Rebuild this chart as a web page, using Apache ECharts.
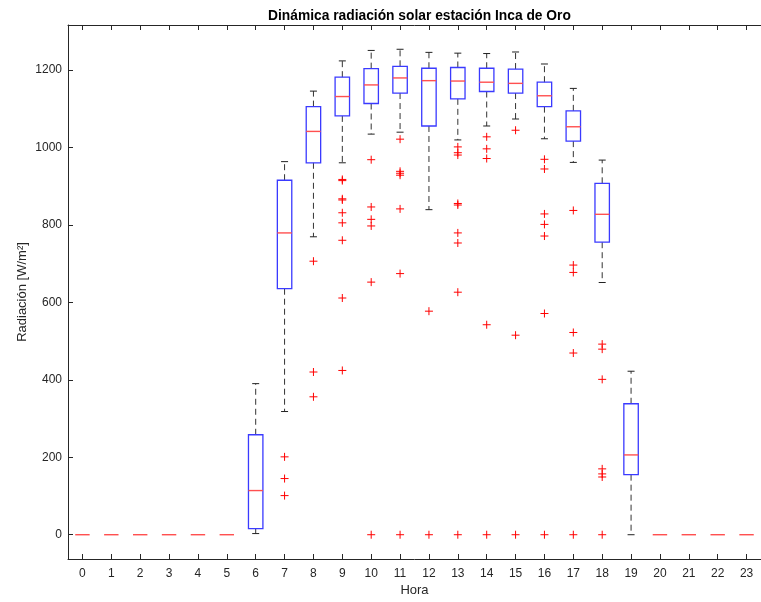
<!DOCTYPE html>
<html>
<head>
<meta charset="utf-8">
<script src="https://cdn.jsdelivr.net/npm/echarts@6/dist/echarts.min.js"></script>
<style>html,body{margin:0;padding:0;background:#fff}#c{width:761px;height:602px}</style>
</head>
<body>
<div id="c"></div>
<script>
const hours = ['0','1','2','3','4','5','6','7','8','9','10','11','12','13','14','15','16','17','18','19','20','21','22','23'];
const boxLow  = [0,0,0,0,0,0,   3, 318,  769,  960, 1034, 1039,  839, 1019, 1055, 1073, 1022,  961, 651,   0, 0,0,0,0];
const boxQ1   = [0,0,0,0,0,0,  16, 635,  960, 1081, 1113, 1140, 1055, 1125, 1144, 1140, 1105, 1016, 755, 155, 0,0,0,0];
const boxMed  = [0,0,0,0,0,0, 114, 779, 1041, 1131, 1161, 1179, 1172, 1171, 1168, 1165, 1133, 1053, 827, 206, 0,0,0,0];
const boxQ3   = [0,0,0,0,0,0, 258, 915, 1105, 1181, 1203, 1209, 1204, 1206, 1204, 1202, 1168, 1094, 907, 338, 0,0,0,0];
const boxHigh = [0,0,0,0,0,0, 390, 963, 1145, 1223, 1250, 1253, 1245, 1243, 1242, 1246, 1215, 1152, 967, 422, 0,0,0,0];
const outliers = [
  [7,201],[7,145],[7,101],
  [8,706],[8,420],[8,356],
  [9,917],[9,914],[9,867],[9,864],[9,831],[9,805],[9,760],[9,611],[9,424],
  [10,968],[10,846],[10,814],[10,797],[10,652],[10,0],
  [11,1021],[11,938],[11,933],[11,928],[11,841],[11,674],[11,0],
  [12,577],[12,0],
  [13,1001],[13,986],[13,980],[13,855],[13,851],[13,779],[13,753],[13,626],[13,0],
  [14,1027],[14,996],[14,971],[14,542],[14,0],
  [15,1044],[15,515],[15,0],
  [16,969],[16,944],[16,828],[16,801],[16,771],[16,571],[16,0],
  [17,837],[17,696],[17,677],[17,522],[17,469],[17,0],
  [18,492],[18,479],[18,401],[18,170],[18,157],[18,149],[18,0]
];
const yTicks = [0,200,400,600,800,1000,1200];

const boxData = hours.map((h,i)=>[i, boxLow[i], boxQ1[i], boxMed[i], boxQ3[i], boxHigh[i]]);

const AX = '#262626';
const FONT = 'Liberation Sans, Arial, sans-serif';
const chart = echarts.init(document.getElementById('c'));
chart.setOption({
  animation: false,
  title: {
    text: 'Dinámica radiación solar estación Inca de Oro',
    left: 263, top: 4,
    textStyle: {fontFamily: FONT, fontSize: 13.8, fontWeight: 'bold', color: '#000'}
  },
  grid: {left: 68, top: 25, width: 703, height: 535, containLabel: false},
  xAxis: [{
    type: 'category', data: hours, position: 'bottom',
    boundaryGap: true,
    name: 'Hora', nameLocation: 'middle', nameGap: 25, nameMoveOverlap: false,
    nameTextStyle: {fontFamily: FONT, fontSize: 13, color: AX},
    axisLine: {show: true, onZero: false, lineStyle: {color: AX, width: 1}},
    axisTick: {show: true, inside: true, length: 5, alignWithLabel: true, interval: 0, lineStyle: {color: AX}},
    axisLabel: {show: true, margin: 9, fontFamily: FONT, fontSize: 12, color: AX, interval: 0},
    splitLine: {show: false}
  },{
    type: 'category', data: hours, position: 'top',
    boundaryGap: true,
    axisLine: {show: true, onZero: false, lineStyle: {color: AX, width: 1}},
    axisTick: {show: true, inside: true, length: 5, alignWithLabel: true, lineStyle: {color: AX}, interval: 0},
    axisLabel: {show: false},
    splitLine: {show: false}
  }],
  yAxis: {
    type: 'value', min: -62.65, max: 1315.65,
    name: 'Radiación [W/m²]', nameLocation: 'middle', nameGap: 39, nameRotate: 90, nameMoveOverlap: false,
    nameTextStyle: {fontFamily: FONT, fontSize: 13, color: AX},
    axisLine: {show: true, onZero: false, lineStyle: {color: AX, width: 1}},
    axisTick: {show: true, inside: true, length: 5, customValues: yTicks, lineStyle: {color: AX}},
    axisLabel: {show: true, margin: 6, customValues: yTicks, formatter: v => String(v), fontFamily: FONT, fontSize: 12, color: AX},
    splitLine: {show: false}
  },
  series: [{
    type: 'custom',
    data: boxData,
    encode: {x: 0, y: [1,2,3,4,5]},
    renderItem: function(params, api) {
      const x = api.value(0);
      const band = api.size([1, 0])[0];
      const half = band * 0.25;
      const cap = 3.5;
      const cx = api.coord([x, 0])[0];
      const yv = i => api.coord([x, api.value(i)])[1];
      const yLow = yv(1), yQ1 = yv(2), yMed = yv(3), yQ3 = yv(4), yHigh = yv(5);
      const dash = {stroke: '#333', lineWidth: 1, lineDash: [6, 4], fill: null};
      const solid = {stroke: '#222', lineWidth: 1, fill: null};
      const children = [];
      if (yHigh < yQ3) {
        children.push({type: 'line', shape: {x1: cx, y1: yQ3, x2: cx, y2: yHigh}, style: dash});
        children.push({type: 'line', shape: {x1: cx - cap, y1: yHigh, x2: cx + cap, y2: yHigh}, style: solid});
      }
      if (yLow > yQ1) {
        children.push({type: 'line', shape: {x1: cx, y1: yQ1, x2: cx, y2: yLow}, style: dash});
        children.push({type: 'line', shape: {x1: cx - cap, y1: yLow, x2: cx + cap, y2: yLow}, style: solid});
      }
      if (yQ1 > yQ3) {
        children.push({type: 'rect', shape: {x: cx - half, y: yQ3, width: half * 2, height: yQ1 - yQ3},
          style: {stroke: '#3a3aff', lineWidth: 1.3, fill: null}});
      }
      children.push({type: 'line', shape: {x1: cx - half, y1: yMed, x2: cx + half, y2: yMed},
        style: {stroke: '#ff5050', lineWidth: 1.4}});
      return {type: 'group', children: children};
    }
  },{
    type: 'custom',
    data: outliers,
    encode: {x: 0, y: 1},
    renderItem: function(params, api) {
      const p = api.coord([api.value(0), api.value(1)]);
      const s = 4;
      const st = {stroke: '#ff0000', lineWidth: 1};
      return {
        type: 'group',
        children: [
          {type: 'line', shape: {x1: p[0] - s, y1: p[1], x2: p[0] + s, y2: p[1]}, style: st},
          {type: 'line', shape: {x1: p[0], y1: p[1] - s, x2: p[0], y2: p[1] + s}, style: st}
        ]
      };
    }
  }]
});
</script>
</body>
</html>
